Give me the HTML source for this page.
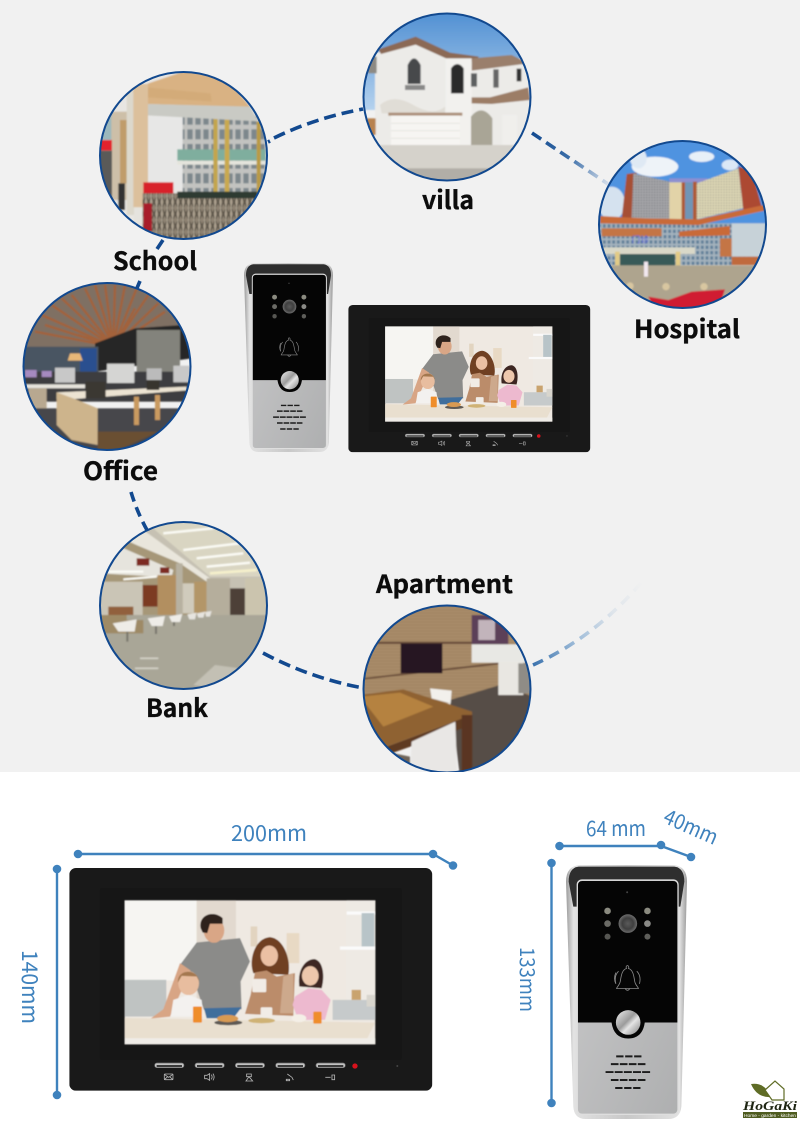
<!DOCTYPE html>
<html><head><meta charset="utf-8"><style>
html,body{margin:0;padding:0;background:#fff}
svg{display:block}
.lb{font-family:"Noto Sans CJK SC","Liberation Sans",sans-serif;font-weight:700;font-size:25px;fill:#0c0c0c;stroke:#0c0c0c;stroke-width:.35px}
.dm{font-family:"Noto Sans CJK SC","Liberation Sans",sans-serif;font-weight:400;font-size:22px;fill:#3f82bd}
</style></head><body>
<svg xmlns="http://www.w3.org/2000/svg" width="800" height="1132" viewBox="0 0 800 1132">
<defs>
<filter id="s" x="-5%" y="-5%" width="110%" height="110%"><feGaussianBlur stdDeviation="2"/></filter>
<filter id="t" x="-5%" y="-5%" width="110%" height="110%"><feGaussianBlur stdDeviation="1.2"/></filter>
<clipPath id="c1"><circle cx="183.5" cy="155.5" r="83"/></clipPath>
<clipPath id="c2"><circle cx="447" cy="97" r="83"/></clipPath>
<clipPath id="c3"><circle cx="682.5" cy="224.5" r="83"/></clipPath>
<clipPath id="c4"><circle cx="107" cy="366.5" r="83"/></clipPath>
<clipPath id="c5"><circle cx="183.5" cy="605.5" r="83"/></clipPath>
<clipPath id="c6"><circle cx="447" cy="689" r="83"/></clipPath>
<linearGradient id="f1" gradientUnits="userSpaceOnUse" x1="531" y1="132" x2="608" y2="184"><stop offset="0" stop-color="#12498f"/><stop offset=".5" stop-color="#3b6ea8"/><stop offset="1" stop-color="#d5deea"/></linearGradient>
<linearGradient id="f2" gradientUnits="userSpaceOnUse" x1="532" y1="665" x2="640" y2="580"><stop offset="0" stop-color="#3a72ad"/><stop offset=".35" stop-color="#9dbbd8"/><stop offset=".7" stop-color="#dfe5eb"/><stop offset="1" stop-color="#f1f1f1"/></linearGradient>
<linearGradient id="silver" x1="0" x2="1" y1="0" y2="0"><stop offset="0" stop-color="#9a9a9a"/><stop offset=".06" stop-color="#e2e2e2"/><stop offset=".5" stop-color="#c8c8c8"/><stop offset=".94" stop-color="#e2e2e2"/><stop offset="1" stop-color="#9a9a9a"/></linearGradient>
<linearGradient id="plate" x1="0" x2="1" y1="0" y2="1"><stop offset="0" stop-color="#c9c9ca"/><stop offset="1" stop-color="#aeafb0"/></linearGradient>
<radialGradient id="lens"><stop offset="0" stop-color="#5a5a5a"/><stop offset=".6" stop-color="#3f3f3f"/><stop offset="1" stop-color="#6c6c6c"/></radialGradient>
<linearGradient id="btn" x1="0" x2="1" y1="0" y2="1"><stop offset="0" stop-color="#f0f0f0"/><stop offset=".45" stop-color="#9b9b9b"/><stop offset=".6" stop-color="#e4e4e4"/><stop offset="1" stop-color="#7f7f7f"/></linearGradient>
<linearGradient id="sky" x1="0" x2="0" y1="0" y2="1"><stop offset="0" stop-color="#4e8ed2"/><stop offset="1" stop-color="#b5d2ee"/></linearGradient>
<pattern id="win" width="24" height="44" patternUnits="userSpaceOnUse"><rect width="24" height="44" fill="#c2c3c0"/><rect x="4" y="6" width="16" height="30" fill="#7d878c"/></pattern>
<pattern id="gridL" width="8" height="8" patternUnits="userSpaceOnUse"><rect width="8" height="8" fill="#a9a9ac"/><rect x="1" y="1" width="4" height="4" fill="#74767d"/></pattern>
<pattern id="gridR" width="8" height="8" patternUnits="userSpaceOnUse"><rect width="8" height="8" fill="#e0d9b6"/><rect x="1" y="1" width="4" height="4" fill="#a5a391"/></pattern>
<pattern id="glass" width="14" height="16" patternUnits="userSpaceOnUse"><rect width="14" height="16" fill="#a5b3bd"/><rect x="2" y="3" width="8" height="10" fill="#5e7e98"/></pattern>
<pattern id="fence" width="16" height="36" patternUnits="userSpaceOnUse"><rect width="16" height="36" fill="#8f8373"/><path d="M0 0L16 36M16 0L0 36" stroke="#4a453b" stroke-width="3"/><rect x="6" width="3" height="36" fill="#c2b7a4"/></pattern>
<pattern id="wood" width="40" height="9" patternUnits="userSpaceOnUse"><rect width="40" height="9" fill="#a98c69"/><path d="M0 3h40" stroke="#9a7d5b" stroke-width="2"/></pattern>

<symbol id="monitor" viewBox="208 205 1089 667" preserveAspectRatio="none">
<rect x="208" y="205" width="1089" height="667" rx="20" fill="#191919"/>
<rect x="300" y="265" width="905" height="515" rx="6" fill="#161616"/>
<g filter="url(#t)">
<rect x="374" y="302" width="752" height="431" fill="#efe9e2"/>
<rect x="374" y="302" width="216" height="240" fill="#f6f5f2"/>
<rect x="590" y="302" width="118" height="300" fill="#e2d9cf"/>
<rect x="1040" y="302" width="86" height="300" fill="#eeeae4"/>
<rect x="1040" y="335" width="86" height="10" fill="#fafafa"/>
<rect x="1020" y="440" width="106" height="10" fill="#fafafa"/>
<rect x="1085" y="340" width="38" height="100" fill="#b8c4c8"/>
<rect x="860" y="400" width="38" height="90" fill="#e8d9c4"/>
<rect x="752" y="380" width="20" height="60" fill="#e2d4c0"/>
<rect x="374" y="540" width="125" height="110" fill="#bfc3c2"/>
<rect x="998" y="600" width="128" height="60" fill="#c6cacb"/>
<rect x="1055" y="570" width="28" height="30" fill="#c9a36e"/>
<rect x="1100" y="585" width="26" height="35" fill="#d8d5cd"/>
<path d="M540 495L590 428L720 415L750 485L722 545L725 628L612 630L588 560Z" fill="#8b8b89"/>
<path d="M540 490L572 512L510 650L452 656L490 628Z" fill="#d8a585"/>
<path d="M612 625L725 622L700 655L620 655Z" fill="#3f6e9c"/>
<ellipse cx="642" cy="392" rx="31" ry="37" fill="#d9a686"/>
<path d="M602 385C595 345 640 330 668 355L668 372L630 372L622 400L608 398Z" fill="#2d211c"/>
<path d="M760 520C745 480 765 415 810 412C850 415 875 480 865 525Z" fill="#6f4024"/>
<ellipse cx="808" cy="468" rx="26" ry="31" fill="#ebc0a3"/>
<path d="M765 518L800 512L830 530L885 520L880 648L735 642L752 585Z" fill="#bb8c6b"/>
<path d="M850 530L880 520L880 640L840 640Z" fill="#cda98c"/>
<path d="M898 560C890 500 925 475 945 478C970 485 975 530 965 565Z" fill="#3d2722"/>
<ellipse cx="931" cy="528" rx="25" ry="29" fill="#edc7ac"/>
<path d="M885 590L925 565L965 570L992 600L975 660L895 660L878 615Z" fill="#edb9cf"/>
<ellipse cx="566" cy="550" rx="31" ry="36" fill="#e8bd9f"/>
<path d="M534 548C530 510 590 500 598 545L590 530L545 528Z" fill="#a4784f"/>
<path d="M520 600L565 585L605 600L610 650L512 650Z" fill="#f3f1ef"/>
<path d="M374 654L1126 668L1102 715L374 715Z" fill="#e9dfcf"/>
<rect x="374" y="715" width="752" height="18" fill="#efece7"/>
<rect x="757" y="537" width="42" height="40" rx="4" fill="#f1ece6"/>
<rect x="782" y="622" width="35" height="30" rx="4" fill="#f1ece6"/>
<rect x="579" y="620" width="27" height="48" rx="3" fill="#ef8d2b"/>
<rect x="940" y="635" width="25" height="36" rx="3" fill="#ef8d2b"/>
<ellipse cx="685" cy="668" rx="42" ry="8" fill="#5f5a55"/>
<ellipse cx="683" cy="656" rx="32" ry="11" fill="#d89a52"/>
<ellipse cx="785" cy="662" rx="40" ry="8" fill="#cfb274"/>
<ellipse cx="897" cy="655" rx="22" ry="12" fill="#f4efe7"/>
</g>
<g fill="#c4c4c4" stroke="#6b6b6b" stroke-width="2">
<rect x="464" y="789" width="88" height="14" rx="7"/><rect x="585" y="789" width="88" height="14" rx="7"/><rect x="706" y="789" width="88" height="14" rx="7"/><rect x="827" y="789" width="88" height="14" rx="7"/><rect x="948" y="789" width="88" height="14" rx="7"/>
</g>
<g fill="#3a3a3a"><rect x="470" y="795" width="76" height="6"/><rect x="591" y="795" width="76" height="6"/><rect x="712" y="795" width="76" height="6"/><rect x="833" y="795" width="76" height="6"/><rect x="954" y="795" width="76" height="6"/></g>
<circle cx="1065" cy="798" r="8" fill="#d8121c"/>
<circle cx="1192" cy="798" r="3" fill="#444"/>
<g fill="none" stroke="#b5b5b5" stroke-width="2.5">
<rect x="493" y="822" width="26" height="17" rx="2"/><path d="M493 823L506 832L519 823M493 839L503 830M519 839L509 830"/>
<path d="M614 826h7l8-5v20l-8-5h-7zM634 824q5 7 0 14M639 821q7 10 0 20"/>
<path d="M740 822h14v8h-14zM747 830l-9 13h20z"/>
<path d="M862 822l14 10 4 8M859 838h10v4h-10z"/>
<path d="M976 832h16M996 825h8v14h-8z"/>
</g>
</symbol>

<symbol id="door" viewBox="198 195 364 763" preserveAspectRatio="none">
<path d="M240 195L520 195Q562 198 562 245L545 920Q542 958 505 958L258 958Q222 958 220 920L198 245Q198 198 240 195Z" fill="url(#silver)"/>
<path d="M236 200L524 200Q554 204 554 245L542 320L220 320L206 245Q206 204 236 200Z" fill="#2e2e2e"/>
<rect x="232" y="240" width="303" height="704" rx="14" fill="url(#plate)" stroke="#dedede" stroke-width="4"/>
<path d="M234 668L234 256Q234 243 247 243L520 243Q533 243 533 256L533 668L435 668Q428 716 385 716Q342 716 335 668Z" fill="#050505"/>
<circle cx="382" cy="277" r="3" fill="#444"/>
<g fill="#8b8b80"><circle cx="323" cy="333" r="10"/><circle cx="443" cy="333" r="10"/><circle cx="323" cy="371" r="10" fill="#6b6b66"/><circle cx="443" cy="371" r="10" fill="#8a8a86"/><circle cx="323" cy="410" r="9" fill="#565652"/><circle cx="443" cy="410" r="9" fill="#5e5e5a"/></g>
<circle cx="384" cy="371" r="28" fill="url(#lens)"/>
<g fill="none" stroke="#8a8a8a" stroke-width="2.5"><path d="M383 497c-4 0-5 5-3 9-14 4-16 22-19 40-2 10-9 14-11 20h66c-2-6-9-10-11-20-3-18-5-36-19-40 2-4 0-9-3-9z"/><path d="M376 566q7 11 14 0"/><path d="M356 514q-14 14-8 38M411 514q14 14 8 38M348 518q-8 18 0 34"/></g>
<circle cx="385" cy="668" r="37" fill="url(#btn)"/>
<g stroke="#1c1c1c" stroke-width="6" fill="none">
<path d="M349 770h76" stroke-dasharray="22 5"/>
<path d="M333 793h104" stroke-dasharray="23 4"/>
<path d="M317 817h134" stroke-dasharray="24 3.5"/>
<path d="M333 841h104" stroke-dasharray="23 4"/>
<path d="M346 865h78" stroke-dasharray="22 5"/>
</g>
</symbol>
</defs>

<rect width="800" height="772" fill="#f1f1f1"/>
<rect y="772" width="800" height="360" fill="#fff"/>

<!-- connectors -->
<g fill="none" stroke="#12498f" stroke-width="3.6" stroke-dasharray="12 6">
<path d="M268 142L270 141" stroke-dasharray="none"/>
<path d="M274 138Q315 118 363 109"/>
<path d="M163 240L157 249" stroke-dasharray="none"/>
<path d="M140 281L137 288" stroke-dasharray="none"/>
<path d="M131 492Q137 512 147 530" stroke-dasharray="10 6"/>
<path d="M263 653Q310 678 363 688"/>
<path d="M532 133L608 184" stroke="url(#f1)" stroke-dasharray="11 6"/>
<path d="M533 665Q600 635 650 572" stroke="url(#f2)" stroke-dasharray="11 7"/>
</g>

<!-- School -->
<g clip-path="url(#c1)"><g transform="translate(90 10) scale(.33333)" filter="url(#s)">
<rect x="20" y="180" width="520" height="520" fill="#e8e6e2"/>
<rect x="165" y="318" width="120" height="220" fill="#e7e7e6"/>
<rect x="278" y="318" width="250" height="230" fill="url(#win)"/>
<rect x="262" y="418" width="265" height="34" fill="#7fae9e"/>
<rect x="262" y="452" width="265" height="12" fill="#e4e4dc"/>
<rect x="370" y="325" width="13" height="230" fill="#c3a54e"/>
<rect x="404" y="325" width="14" height="230" fill="#c9a94f"/>
<rect x="500" y="335" width="12" height="220" fill="#b99a45"/>
<path d="M105 255L175 220L280 185L400 195L482 292L170 282Z" fill="#d9b283"/>
<path d="M172 232L362 250L365 275L172 262Z" fill="#d3ab79"/>
<path d="M95 310L170 282L480 290L505 334L172 316Z" fill="#c9cac4"/>
<rect x="30" y="300" width="36" height="100" fill="#9cb8bc"/>
<rect x="64" y="305" width="48" height="265" fill="#cdbfa8"/>
<rect x="90" y="330" width="20" height="190" fill="#c09c6a"/>
<rect x="110" y="245" width="22" height="370" fill="#dcd8cc"/>
<rect x="130" y="222" width="44" height="370" fill="#dcc09c"/>
<rect x="20" y="390" width="46" height="32" fill="#e2202e"/>
<rect x="20" y="422" width="46" height="180" fill="#5a5a58"/>
<rect x="85" y="520" width="20" height="80" fill="#333"/>
<rect x="160" y="517" width="90" height="34" fill="#d8202c"/>
<rect x="132" y="592" width="30" height="100" fill="#e5e3de"/>
<rect x="158" y="550" width="350" height="150" fill="url(#fence)"/>
<rect x="262" y="545" width="240" height="20" fill="#2e3a30"/>
<rect x="160" y="580" width="26" height="84" fill="#a81f2a"/>
</g></g>
<circle cx="183.5" cy="155.5" r="83.5" fill="none" stroke="#12498f" stroke-width="2"/>

<!-- Villa -->
<g clip-path="url(#c2)"><g transform="translate(355 10) scale(.33333)" filter="url(#s)">
<rect x="20" y="0" width="520" height="300" fill="url(#sky)"/>
<path d="M60 130L185 90L290 145L520 145L530 410L60 410Z" fill="#ecebe8"/>
<path d="M70 118L182 80L285 128L372 140L358 155L280 148L182 104L78 132Z" fill="#8b6955"/>
<path d="M350 145L470 135L500 150L520 160L350 182Z" fill="#9a7f6c"/>
<rect x="40" y="140" width="25" height="50" fill="#8d8a84"/>
<rect x="272" y="145" width="78" height="260" fill="#f2f1ee"/>
<path d="M288 250V175Q307 150 326 175V250Z" fill="#2a2a2a"/>
<path d="M158 222V165Q177 125 197 165V222Z" fill="#46494c"/>
<path d="M150 225H210V240H150Z" fill="#888"/>
<rect x="348" y="190" width="18" height="40" fill="#5d5f60"/><rect x="415" y="178" width="16" height="55" fill="#666"/><rect x="485" y="176" width="14" height="38" fill="#333"/>
<path d="M75 285Q115 250 175 285T270 290V310H80Z" fill="#e0ddd6"/>
<path d="M350 262L405 262L520 232L525 270L410 282L350 280Z" fill="#9c7d66"/>
<path d="M348 405V320Q380 280 412 325V405Z" fill="#a9a596"/>
<rect x="100" y="308" width="222" height="9" fill="#ab8f78"/>
<rect x="108" y="317" width="207" height="91" fill="#f6f5f2"/>
<path d="M108 340H315M108 362H315M108 385H315" stroke="#dedcd6" stroke-width="2"/>
<rect x="442" y="315" width="44" height="90" fill="#f0efec"/>
<rect x="36" y="325" width="26" height="50" fill="#b8824f"/>
<rect x="20" y="405" width="520" height="110" fill="#d5d2cb"/>
<rect x="20" y="475" width="520" height="45" fill="#b1aea7"/>
</g></g>
<circle cx="447" cy="97" r="83.5" fill="none" stroke="#12498f" stroke-width="2"/>

<!-- Hospital -->
<g clip-path="url(#c3)"><g transform="translate(355 10) scale(.33333)" filter="url(#s)">
<rect x="720" y="380" width="530" height="270" fill="#4f93e0"/>
<ellipse cx="900" cy="470" rx="70" ry="30" fill="#eef3f8"/>
<ellipse cx="850" cy="445" rx="25" ry="30" fill="#dfe9f4"/>
<ellipse cx="1040" cy="440" rx="38" ry="16" fill="#e8f0f8"/>
<ellipse cx="1125" cy="465" rx="25" ry="16" fill="#dbe8f6"/>
<ellipse cx="770" cy="580" rx="40" ry="50" fill="#d5e2ef"/>
<path d="M800 625L815 492L845 488L830 625Z" fill="#a64f36"/>
<path d="M835 490L945 515L945 635L830 625Z" fill="url(#gridL)"/>
<rect x="943" y="505" width="115" height="12" fill="#8d8fd0"/>
<rect x="943" y="517" width="40" height="115" fill="#e2d3a8"/>
<rect x="980" y="517" width="10" height="115" fill="#ad5a35"/>
<rect x="990" y="517" width="26" height="115" fill="#6f95b5"/>
<rect x="1014" y="515" width="12" height="115" fill="#ad5a35"/>
<path d="M1025 520L1150 475L1165 595L1025 628Z" fill="url(#gridR)"/>
<path d="M1150 470L1190 480L1220 590L1165 600Z" fill="#ac4a32"/>
<rect x="735" y="640" width="500" height="125" fill="url(#glass)"/>
<path d="M735 618L870 625L1030 628L1226 585L1230 602L1030 645L735 640Z" fill="#c96a38"/>
<rect x="740" y="655" width="180" height="24" fill="#c47444"/>
<path d="M972 665L1125 648V676L972 680Z" fill="#c96a38"/>
<rect x="1130" y="640" width="100" height="100" fill="#c7d2d8"/>
<rect x="1095" y="685" width="35" height="55" fill="#c47444"/>
<rect x="745" y="712" width="275" height="20" fill="#d9d8c8"/>
<rect x="780" y="725" width="14" height="45" fill="#e2cb86"/><rect x="962" y="725" width="14" height="45" fill="#e2cb86"/>
<rect x="795" y="732" width="165" height="35" fill="#385a58"/>
<rect x="1130" y="740" width="90" height="25" fill="#c06a3e"/>
<text x="830" y="698" font-family="'Noto Sans CJK SC',sans-serif" font-size="26" fill="#5a5ae0">门诊</text>
<rect x="720" y="766" width="530" height="140" fill="#aea48e"/>
<rect x="867" y="755" width="12" height="45" fill="#f2e8ef"/>
<circle cx="825" cy="828" r="11" fill="#d8c6a0"/><circle cx="933" cy="830" r="11" fill="#d8c6a0"/><circle cx="1047" cy="830" r="11" fill="#d8c6a0"/>
<path d="M880 860L940 870L1010 845L1110 838L1090 900H900Z" fill="#d01c30"/>
</g></g>
<circle cx="682.5" cy="224.5" r="83.5" fill="none" stroke="#12498f" stroke-width="2"/>

<!-- Office -->
<g clip-path="url(#c4)"><g transform="translate(15 275) scale(.33333)" filter="url(#s)">
<rect x="20" y="20" width="520" height="210" fill="#7f7063"/>
<g stroke="#a3623a" stroke-width="7" fill="none">
<path d="M295 215L170 60M295 215L210 40M295 215L240 30M295 215L270 30M295 215L300 30M295 215L330 30M295 215L365 40M295 215L400 60M295 215L430 85M295 215L450 110M295 215L80 120M295 215L60 170M295 215L110 90M295 215L140 70M295 215L360 100M295 215L190 180M295 215L90 150"/>
</g>
<path d="M240 205L360 160L500 150L530 250L240 290Z" fill="#262626"/>
<rect x="365" y="165" width="130" height="130" fill="#83837b"/>
<rect x="20" y="215" width="230" height="95" fill="#4a5562"/>
<rect x="195" y="220" width="50" height="70" fill="#2a4f8f"/>
<path d="M165 235h30l8 22h-45z" fill="#e8b878"/>
<rect x="20" y="290" width="520" height="90" fill="#3e3e40"/>
<rect x="120" y="278" width="60" height="45" fill="#c8c8c8"/>
<rect x="276" y="266" width="82" height="58" fill="#d5d5d3"/>
<rect x="395" y="280" width="45" height="35" fill="#bbb"/><rect x="475" y="272" width="50" height="50" fill="#c8c8c8"/>
<rect x="30" y="285" width="35" height="22" fill="#a68ac0"/><rect x="80" y="288" width="30" height="18" fill="#a68ac0"/>
<rect x="30" y="328" width="180" height="12" fill="#e6e3dc"/>
<rect x="40" y="340" width="55" height="90" fill="#b8a890"/>
<rect x="20" y="400" width="520" height="130" fill="#47474b"/>
<path d="M125 352L515 335V346L180 372H125Z" fill="#ece3d2"/>
<path d="M125 352L180 372L248 400V510L170 495L125 450Z" fill="#cdb48c"/>
<rect x="357" y="365" width="15" height="85" fill="#c99a60"/><rect x="420" y="360" width="15" height="75" fill="#c99a60"/>
<path d="M212 320h60v50h-60z" fill="#3b3733"/><path d="M395 315h38v30h-38z" fill="#37342f"/>
<path d="M248 470L430 470L300 530H248Z" fill="#6b4f32"/>
</g></g>
<circle cx="107" cy="366.5" r="83.5" fill="none" stroke="#12498f" stroke-width="2"/>

<!-- Bank -->
<g clip-path="url(#c5)"><g transform="translate(100 520) scale(.33333)" filter="url(#s)">
<rect width="510" height="510" fill="#c6c1b3"/>
<path d="M130 0H510V170L330 170Z" fill="#d9d5c2"/>
<path d="M190 40L340 25M250 90L420 70M290 115L430 100M320 140L450 128" stroke="#fbfbf5" stroke-width="7"/>
<path d="M330 160L470 150" stroke="#f5f0cc" stroke-width="8"/>
<path d="M130 30L330 175L320 185L80 60Z" fill="#e9e6dc"/>
<path d="M85 65L240 130L320 185V290H0V130Z" fill="#a69778"/>
<path d="M0 130L60 80L220 150L215 170L170 170L0 160Z" fill="#e6e4dd"/>
<rect x="110" y="115" width="38" height="22" fill="#7d2c20"/><rect x="180" y="142" width="28" height="18" fill="#7d2c20"/>
<path d="M20 155L130 155M70 178L170 170" stroke="#fdfdf8" stroke-width="6"/>
<rect x="0" y="185" width="128" height="100" fill="#cac5b6"/>
<rect x="128" y="195" width="45" height="65" fill="#7c3a22"/>
<rect x="173" y="165" width="60" height="125" fill="#b28f60"/>
<rect x="228" y="130" width="20" height="160" fill="#b7b1a0"/>
<rect x="248" y="190" width="35" height="90" fill="#d0cbbc"/>
<rect x="282" y="185" width="38" height="95" fill="#b39668"/>
<rect x="320" y="175" width="70" height="120" fill="#b5ae9c"/>
<rect x="390" y="205" width="45" height="85" fill="#4d4038"/>
<rect x="435" y="175" width="70" height="130" fill="#cbc4ae"/>
<rect x="0" y="285" width="510" height="225" fill="#a9a697"/>
<path d="M0 285H80V300H0ZM0 300H130V340H0Z" fill="#9e8a66"/>
<rect x="25" y="260" width="75" height="25" fill="#91603c"/>
<path d="M38 310L110 298L104 335H55Z" fill="#eeece7"/>
<path d="M143 295L195 288L188 318H155Z" fill="#eeece7"/>
<path d="M207 289L247 282L240 306H215Z" fill="#eeece7"/>
<path d="M262 283L290 278L285 298H268ZM290 280L316 275L310 293H295ZM315 276L335 273L330 290H318Z" fill="#e6e4df"/>
<path d="M82 335V365M168 318V342M222 306V318" stroke="#77746a" stroke-width="6"/>
<path d="M280 495L345 435L420 445L380 510Z" fill="#c3c0b4"/>
<path d="M120 415h55M105 445h70" stroke="#d4d2c8" stroke-width="5"/>
</g></g>
<circle cx="183.5" cy="605.5" r="83.5" fill="none" stroke="#12498f" stroke-width="2"/>

<!-- Apartment -->
<g clip-path="url(#c6)"><g transform="translate(350 600) scale(.33333)" filter="url(#s)">
<rect x="30" y="10" width="520" height="300" fill="url(#wood)"/>
<path d="M30 125H365V132H30ZM30 235L470 185V191L30 240Z" fill="#6a4e3a"/>
<rect x="152" y="130" width="125" height="90" fill="#261520"/>
<rect x="365" y="45" width="110" height="88" fill="#5b3f58"/>
<rect x="385" y="60" width="50" height="60" fill="#c2b4bb"/>
<rect x="365" y="133" width="190" height="55" fill="#e8e8e4"/>
<path d="M300 300L450 255L550 290V530H330Z" fill="#574d47"/>
<rect x="445" y="185" width="75" height="100" fill="#e9e7e2"/>
<rect x="505" y="190" width="40" height="90" fill="#8f8c86"/>
<path d="M30 285L160 268L366 335V345L110 440L30 380Z" fill="#8f6232"/>
<path d="M30 290L150 278L250 320L100 380Z" fill="#b5823f"/>
<path d="M30 380L110 440L366 345V375L110 465L30 410Z" fill="#5e3a20"/>
<rect x="335" y="345" width="32" height="180" fill="#5a3620"/>
<path d="M240 265L305 272L302 310L245 295Z" fill="#f2f0ec"/>
<path d="M185 425L316 365L322 530H180Z" fill="#e9e7e5"/>
<path d="M60 445L180 470L180 530H100Z" fill="#6e6458"/>
</g></g>
<circle cx="447" cy="689" r="83.5" fill="none" stroke="#12498f" stroke-width="2"/>
<rect y="772" width="800" height="6" fill="#fff"/>

<!-- Labels -->
<text class="lb" x="113" y="270" textLength="84" lengthAdjust="spacingAndGlyphs">School</text>
<text class="lb" x="422" y="209" textLength="52" lengthAdjust="spacingAndGlyphs">villa</text>
<text class="lb" x="634" y="338" textLength="106" lengthAdjust="spacingAndGlyphs">Hospital</text>
<text class="lb" x="83" y="480" textLength="75" lengthAdjust="spacingAndGlyphs">Office</text>
<text class="lb" x="146" y="717" textLength="62" lengthAdjust="spacingAndGlyphs">Bank</text>
<text class="lb" x="376" y="593" textLength="137" lengthAdjust="spacingAndGlyphs">Apartment</text>

<!-- Products top -->
<use href="#door" x="244" y="263" width="89" height="189"/>
<use href="#monitor" x="348.3" y="305" width="242" height="147.3"/>

<!-- Products bottom -->
<use href="#monitor" x="69.3" y="868" width="363" height="222.7"/>
<use href="#door" x="566" y="865" width="121" height="254"/>

<!-- Dimensions -->
<g fill="none" stroke="#3f82bd" stroke-width="2.4">
<path d="M78 854H433L453 865.5"/>
<path d="M57 869V1095"/>
<path d="M559.5 846H661L691 857"/>
<path d="M551.5 863V1103"/>
</g>
<g fill="#3f82bd">
<circle cx="78" cy="854" r="4.3"/><circle cx="433" cy="854" r="4.3"/><circle cx="453" cy="865.5" r="4.3"/>
<circle cx="57" cy="869" r="4.3"/><circle cx="57" cy="1095" r="4.3"/>
<circle cx="559.5" cy="846" r="4.3"/><circle cx="661" cy="845" r="4.3"/><circle cx="691" cy="857" r="4.3"/>
<circle cx="551.5" cy="863" r="4.3"/><circle cx="551.5" cy="1103" r="4.3"/>
</g>
<text class="dm" x="231" y="841" textLength="76" lengthAdjust="spacingAndGlyphs">200mm</text>
<text class="dm" transform="translate(22 950) rotate(90)" textLength="74" lengthAdjust="spacingAndGlyphs">140mm</text>
<text class="dm" x="586" y="836" textLength="60" lengthAdjust="spacingAndGlyphs" style="font-size:21px">64 mm</text>
<text class="dm" transform="translate(662 822) rotate(24)" textLength="57" lengthAdjust="spacingAndGlyphs" style="font-size:21px">40mm</text>
<text class="dm" transform="translate(520 947) rotate(90)" textLength="65" lengthAdjust="spacingAndGlyphs" style="font-size:20px">133mm</text>

<!-- Logo -->
<path d="M751 1084Q765 1082 771 1097Q757 1098 751 1084Z" fill="#5f6c26"/>
<path d="M765 1090L775 1081L784 1089V1100H772Z" fill="#fff" stroke="#5f6c26" stroke-width="1.2"/>
<text x="743" y="1110" font-family="'Liberation Serif',serif" font-weight="700" font-style="italic" font-size="13" fill="#1d2412" textLength="54" lengthAdjust="spacingAndGlyphs">HoGaKi</text>
<rect x="743" y="1112" width="54" height="6" fill="#4f5c20"/>
<text x="744" y="1117" font-family="'Liberation Sans',sans-serif" font-size="4.5" fill="#fff" textLength="52" lengthAdjust="spacingAndGlyphs">Home - garden - kitchen</text>
</svg>
</body></html>
